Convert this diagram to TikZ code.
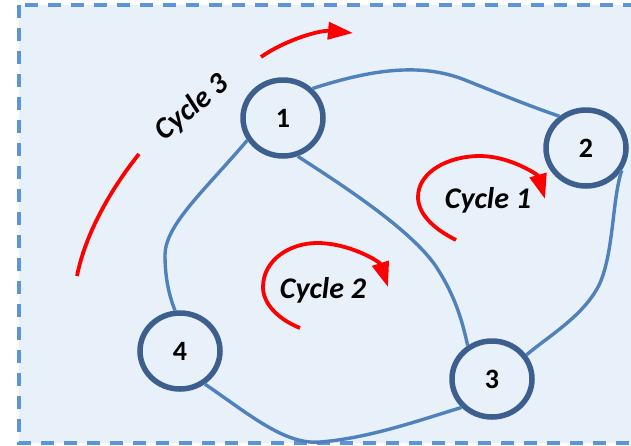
\documentclass[tikz,border=0pt]{standalone}
\usepackage{fontspec}
\setmainfont{Carlito}
\usetikzlibrary{arrows.meta,shapes.geometric}
\definecolor{bgfill}{HTML}{E8F0FA}
\definecolor{bgline}{HTML}{5B95D8}
\definecolor{vertline}{HTML}{3C5F8D}
\definecolor{edgeline}{HTML}{4F81BD}

\tikzset{
  vertex/.style={ellipse,draw=vertline,line width=5.5pt,fill=bgfill,minimum width=80pt,minimum height=76pt,inner sep=0pt,font=\fontsize{28}{30}\selectfont\bfseries},
  link/.style={draw=edgeline,line width=3.4pt},
  cyc/.style={draw=red,line width=3.8pt},
  cycarrow/.style={cyc,-{Triangle[length=25pt,width=17pt]}},
  cyclabel/.style={font=\fontsize{30}{32}\selectfont\bfseries\itshape,inner sep=0pt}
}

\begin{document}
\begin{tikzpicture}[x=1pt,y=-1pt]
  \useasboundingbox (0,0) rectangle (631,445);
  \fill [white] (0,0) rectangle (631,445);
  \draw [bgline,fill=bgfill,line width=3.5pt,dash pattern=on 13pt off 10pt] (19,5) rectangle (660,443);
  % vertices
  \node [vertex] (N1) at (283,118) {1};
  \node [vertex] (N2) at (586,148) {2};
  \node [vertex] (N3) at (492,379) {3};
  \node [vertex] (N4) at (180,351) {4};
  % edges
  \draw [link] (N1.45) .. controls (370,70) and (420,62) .. (465,80) .. controls (510,98) and (535,108) .. (N2.130);
  \draw [link] (N1.212) .. controls (205,190) and (165,225) .. (165,255) .. controls (165,280) and (170,298) .. (N4.97);
  \draw [link] (N1.291) .. controls (350,190) and (410,230) .. (435,265) .. controls (455,295) and (462,320) .. (N3.126);
  \draw [link] (N2.-32) .. controls (612,200) and (614,250) .. (600,283) .. controls (585,315) and (550,335) .. (N3.35);
  \draw [link] (N4.-53) .. controls (250,415) and (285,445) .. (320,442) .. controls (370,438) and (420,420) .. (N3.223);
  % cycle 1
  \coordinate (S1) at (456,240);
  \coordinate (E1) at (545,199);
  \draw [cycarrow] (S1) .. controls (432,228) and (418,213) .. (418,197) .. controls (418,172) and (448,156) .. (480,156) .. controls (510,156) and (538,175) .. (E1);
  \node [cyclabel] (C1) at (488,200) {Cycle 1};
  % cycle 2
  \coordinate (S2) at (300,328);
  \coordinate (E2) at (388,287);
  \draw [cycarrow] (S2) .. controls (280,320) and (263,305) .. (263,287) .. controls (263,260) and (290,243) .. (317,243) .. controls (350,243) and (380,262) .. (E2);
  \node [cyclabel] (C2) at (323,290) {Cycle 2};
  % cycle 3
  \coordinate (S3) at (77,276);
  \coordinate (M3) at (139,154);
  \coordinate (R3) at (261,57);
  \coordinate (E3) at (353,33);
  \draw [cyc] (S3) .. controls (85,235) and (110,190) .. (M3);
  \draw [cycarrow] (R3) .. controls (285,40) and (320,30) .. (E3);
  \node [cyclabel,rotate=40] (C3) at (192,108) {Cycle 3};
\end{tikzpicture}
\end{document}
